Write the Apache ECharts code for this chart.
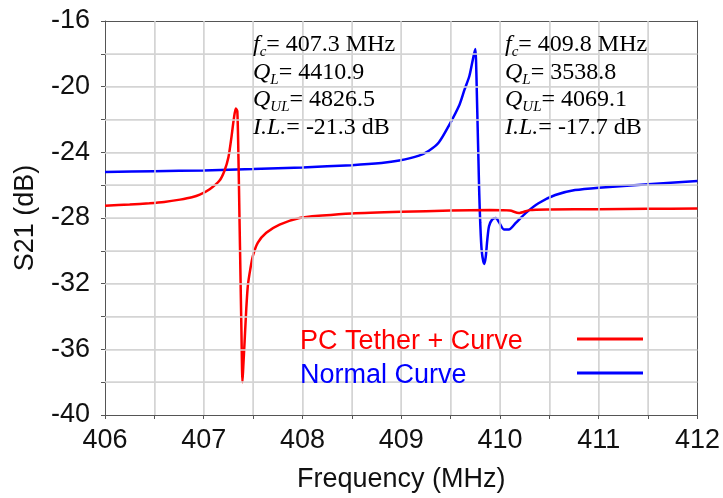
<!DOCTYPE html>
<html>
<head>
<meta charset="utf-8">
<script src="https://cdn.jsdelivr.net/npm/echarts@6/dist/echarts.min.js"></script>
<style>
html,body{margin:0;padding:0;background:#fff;}
#chart{width:723px;height:498px;}
</style>
</head>
<body>
<div id="chart"></div>
<script>
// ---- Data ----
const redFreq = [406.0, 406.25, 406.45, 406.6, 406.76, 406.88, 406.96, 407.06, 407.16, 407.21, 407.25, 407.28, 407.305, 407.325, 407.34, 407.352, 407.362, 407.372, 407.382, 407.392, 407.40, 407.414, 407.431, 407.447, 407.472, 407.498, 407.548, 407.633, 407.768, 407.97, 408.2, 408.5, 409.0, 409.5, 409.9, 410.1, 410.19, 410.3, 410.5, 411.0, 411.5, 412.0];
const redS21 = [-27.25, -27.18, -27.1, -27.02, -26.88, -26.74, -26.58, -26.25, -25.72, -25.12, -24.3, -23.1, -21.95, -21.33, -21.5, -24.5, -28.0, -31.5, -35.0, -38.0, -37.1, -35.5, -33.5, -32.1, -31.1, -30.3, -29.5, -28.9, -28.4, -28.0, -27.85, -27.72, -27.62, -27.55, -27.52, -27.55, -27.7, -27.52, -27.48, -27.46, -27.44, -27.42];

const blueFreq = [406.0, 406.5, 407.0, 407.5, 408.0, 408.5, 408.8, 408.98, 409.18, 409.28, 409.38, 409.48, 409.59, 409.64, 409.69, 409.72, 409.75, 409.758, 409.766, 409.774, 409.782, 409.79, 409.80, 409.815, 409.84, 409.855, 409.872, 409.889, 409.92, 409.957, 409.99, 410.04, 410.09, 410.16, 410.26, 410.39, 410.56, 410.76, 411.0, 411.5, 412.0];
const blueS21 = [-25.2, -25.15, -25.1, -25.02, -24.92, -24.78, -24.65, -24.5, -24.2, -23.9, -23.4, -22.4, -21.1, -20.2, -19.35, -18.5, -17.7, -18.5, -20.5, -22.5, -24.5, -26.5, -28.3, -30.0, -30.8, -30.4, -29.3, -28.5, -28.1, -28.0, -28.25, -28.7, -28.7, -28.3, -27.7, -27.1, -26.6, -26.3, -26.15, -25.95, -25.75];

const seriesNames = ['PC Tether + Curve', 'Normal Curve'];
const xTicks = [406, 407, 408, 409, 410, 411, 412];
const yTicks = [-40, -36, -32, -28, -24, -20, -16];
// grid line positions (major + minor)
const xGridLines = [406.5, 407, 407.5, 408, 408.5, 409, 409.5, 410, 410.5, 411, 411.5];
const yGridLines = [-38, -36, -34, -32, -30, -28, -26, -24, -22, -20, -18];

const leftNote = {fc: '407.3 MHz', QL: '4410.9', QUL: '4826.5', IL: '-21.3 dB'};
const rightNote = {fc: '409.8 MHz', QL: '3538.8', QUL: '4069.1', IL: '-17.7 dB'};

// ---- Build ----
const zip = (a, b) => a.map((v, i) => [v, b[i]]);
const RED = '#ff0000', BLUE = '#0000ff';
const SANS = '"Liberation Sans", Arial, sans-serif';
const SERIF = '"Liberation Serif", "Times New Roman", serif';

const rich = {
  i: {fontFamily: SERIF, fontSize: 24, fontStyle: 'italic', color: '#111', lineHeight: 30},
  n: {fontFamily: SERIF, fontSize: 24, color: '#111', lineHeight: 30},
  s: {fontFamily: SERIF, fontSize: 15, fontStyle: 'italic', color: '#111', lineHeight: 30, verticalAlign: 'bottom'}
};
function noteLines(note) {
  return [
    '{i|f}{s|c}{n|= ' + note.fc + '}',
    '{i|Q}{s|L}{n|= ' + note.QL + '}',
    '{i|Q}{s|UL}{n|= ' + note.QUL + '}',
    '{i|I.L.}{n|= ' + note.IL + '}'
  ];
}
const noteY = [45, 72.5, 100, 127.5];
const graphics = [];
[[253, leftNote], [505, rightNote]].forEach(([x, note]) => {
  noteLines(note).forEach((t, k) => {
    graphics.push({type: 'text', x: x, y: noteY[k], z: 10,
      style: {text: t, rich: rich, verticalAlign: 'middle', align: 'left'}});
  });
});
// legend
[[seriesNames[0], RED, 342], [seriesNames[1], BLUE, 376]].forEach(([name, col, y]) => {
  graphics.push({type: 'text', x: 300, y: y, z: 10,
    style: {text: name, fill: col, font: '27px ' + SANS, verticalAlign: 'middle', align: 'left'}});
  graphics.push({type: 'line', z: 10, shape: {x1: 577, y1: y - 3, x2: 643, y2: y - 3},
    style: {stroke: col, lineWidth: 3}});
});

const GRIDC = '#d4d4d4';
const labelStyle = {fontFamily: SANS, fontSize: 27, color: '#111'};

const option = {
  animation: false,
  grid: {left: 105, right: 24, top: 21, bottom: 76},
  xAxis: [
    {
      type: 'value',
      min: xTicks[0], max: xTicks[xTicks.length - 1], interval: 1, position: 'bottom',
      name: 'Frequency (MHz)', nameLocation: 'middle', nameGap: 51, nameTextStyle: labelStyle,
      axisLabel: Object.assign({show: true, margin: 12}, labelStyle),
      axisLine: {show: true, onZero: false, lineStyle: {color: '#555', width: 1}},
      axisTick: {show: true, inside: false, length: 4, lineStyle: {color: '#555'}},
      minorTick: {show: true, splitNumber: 2, length: 4, lineStyle: {color: '#555'}},
      splitLine: {show: true, lineStyle: {color: GRIDC, width: 1}},
      minorSplitLine: {show: true, lineStyle: {color: GRIDC, width: 1}}
    },
    {
      type: 'value',
      min: xTicks[0], max: xTicks[xTicks.length - 1], interval: 1, position: 'top',
      axisLine: {show: true, onZero: false, lineStyle: {color: '#555', width: 1}},
      axisTick: {show: false}, minorTick: {show: false}, axisLabel: {show: false},
      splitLine: {show: false}, minorSplitLine: {show: false}
    }
  ],
  yAxis: [
    {
      type: 'value',
      min: yTicks[0], max: yTicks[yTicks.length - 1], interval: 4, position: 'left',
      name: 'S21 (dB)', nameLocation: 'middle', nameGap: 66, nameTextStyle: labelStyle,
      axisLabel: Object.assign({show: true, margin: 15}, labelStyle),
      axisLine: {show: true, onZero: false, lineStyle: {color: '#555', width: 1}},
      axisTick: {show: true, inside: false, length: 4, lineStyle: {color: '#555'}},
      minorTick: {show: true, splitNumber: 2, length: 4, lineStyle: {color: '#555'}},
      splitLine: {show: true, lineStyle: {color: GRIDC, width: 1}},
      minorSplitLine: {show: true, lineStyle: {color: GRIDC, width: 1}}
    },
    {
      type: 'value',
      min: yTicks[0], max: yTicks[yTicks.length - 1], interval: 4, position: 'right',
      axisLine: {show: true, onZero: false, lineStyle: {color: '#555', width: 1}},
      axisTick: {show: false}, minorTick: {show: false}, axisLabel: {show: false},
      splitLine: {show: false}, minorSplitLine: {show: false}
    }
  ],
  series: [
    {
      name: 'grid', type: 'line', xAxisIndex: 0, yAxisIndex: 0, z: 1, silent: true,
      data: [[xTicks[0], yTicks[0]]], showSymbol: false, lineStyle: {opacity: 0},
      markLine: {
        silent: true, symbol: ['none', 'none'], label: {show: false}, animation: false,
        lineStyle: {color: GRIDC, width: 1.5, type: 'solid', opacity: 1},
        emphasis: {disabled: true},
        data: xGridLines.map(v => ({xAxis: v})).concat(yGridLines.map(v => ({yAxis: v})))
      }
    },
    {name: seriesNames[0], type: 'line', xAxisIndex: 0, yAxisIndex: 0, data: zip(redFreq, redS21), color: RED,
     smooth: 0.25, showSymbol: false,
     lineStyle: {width: 2.5, color: RED}, z: 3},
    {name: seriesNames[1], type: 'line', xAxisIndex: 0, yAxisIndex: 0, data: zip(blueFreq, blueS21), color: BLUE,
     smooth: 0.25, showSymbol: false,
     lineStyle: {width: 2.5, color: BLUE}, z: 2}
  ],
  graphic: graphics
};
echarts.init(document.getElementById('chart')).setOption(option);
</script>
</body>
</html>
